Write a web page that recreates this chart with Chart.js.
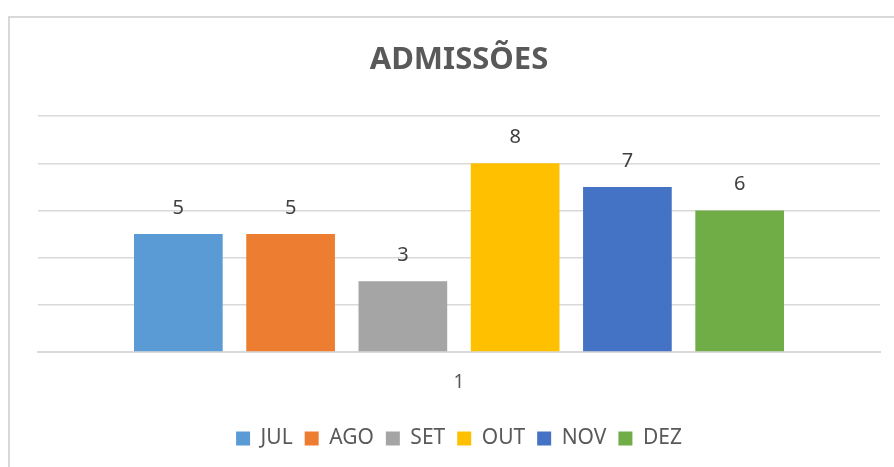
<!DOCTYPE html>
<html>
<head>
<meta charset="utf-8">
<script src="https://cdn.jsdelivr.net/npm/chart.js@4.4.1/dist/chart.umd.min.js"></script>
<style>
  body { margin: 0; background: #fff; }
  #wrap { position: relative; width: 894px; height: 467px; overflow: hidden; }
  #frame { position: absolute; left: 8px; top: 16px; width: 900px; height: 500px; border: 2px solid #d9d9d9; pointer-events: none; }
</style>
</head>
<body>
<div id="wrap">
  <canvas id="admChart" width="894" height="467"></canvas>
  <div id="frame"></div>
</div>
<script>
// Admissões por mês (uma única categoria "1")
const categories = ['1'];
const months = ['JUL', 'AGO', 'SET', 'OUT', 'NOV', 'DEZ'];
const admissions = [5, 5, 3, 8, 7, 6];
const colors = ['#5b9bd5', '#ed7d31', '#a5a5a5', '#ffc000', '#4472c4', '#70ad47'];
const yTicks = [0, 2, 4, 6, 8, 10];

const FONT = '"Noto Sans", "Open Sans", sans-serif';

// value labels above each bar
const valueLabels = {
    id: 'valueLabels',
    afterDatasetsDraw(chart) {
        const c = chart.ctx;
        c.save();
        c.font = '20px ' + FONT;
        c.fillStyle = '#404040';
        c.textAlign = 'center';
        c.textBaseline = 'middle';
        chart.data.datasets.forEach((ds, i) => {
            chart.getDatasetMeta(i).data.forEach((bar, j) => {
                c.fillText(ds.data[j], bar.x, bar.y - 26);
            });
        });
        c.restore();
    }
};

new Chart(document.getElementById('admChart'), {
    type: 'bar',
    data: {
        labels: categories,
        datasets: months.map((m, i) => ({
            label: m,
            data: [admissions[i]],
            backgroundColor: colors[i],
            borderWidth: 0
        }))
    },
    options: {
        responsive: false,
        animation: false,
        categoryPercentage: 0.8,
        barPercentage: 0.79,
        layout: { padding: { left: 38, right: 14, top: 20, bottom: 8 } },
        plugins: {
            title: {
                display: true,
                text: 'ADMISSÕES',
                color: '#595959',
                font: { family: FONT, size: 31, weight: 'bold' },
                padding: { top: 22, bottom: 37 }
            },
            legend: {
                position: 'bottom',
                labels: {
                    color: '#595959',
                    font: { family: FONT, size: 21 },
                    boxWidth: 14,
                    boxHeight: 14,
                    padding: 12
                }
            },
            tooltip: { enabled: false }
        },
        scales: {
            x: {
                grid: { display: false },
                border: { color: '#d9d9d9', width: 2 },
                ticks: {
                    color: '#595959',
                    font: { family: FONT, size: 19 },
                    padding: 11
                },
                afterFit: (s) => { s.height = 64; }
            },
            y: {
                min: 0,
                max: 10,
                afterBuildTicks: (s) => { s.ticks = yTicks.map(v => ({ value: v })); },
                ticks: { display: false },
                grid: { color: '#d9d9d9', lineWidth: 1.5, drawTicks: false },
                border: { display: false }
            }
        }
    },
    plugins: [valueLabels]
});
</script>
</body>
</html>
